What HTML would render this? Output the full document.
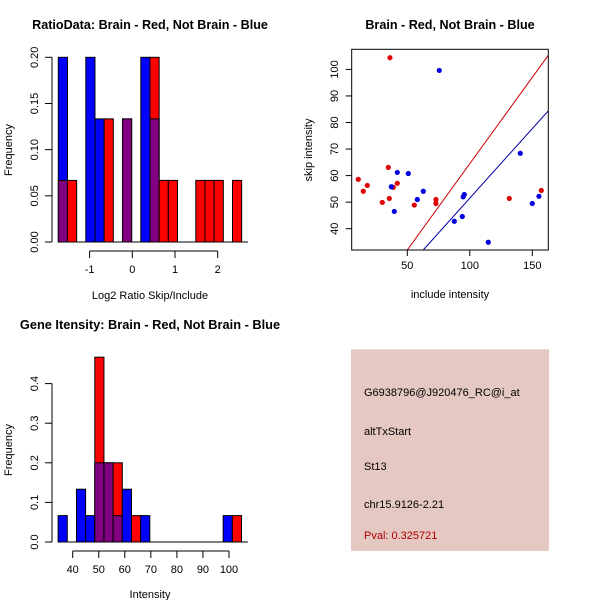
<!DOCTYPE html>
<html><head><meta charset="utf-8"><style>
body{margin:0;background:#fff}
svg text{font-family:"Liberation Sans",sans-serif;fill:#000}
</style></head><body>
<svg id="s" width="600" height="600" viewBox="0 0 600 600">
<rect x="351" y="349.3" width="198" height="201.7" fill="#e5c8c1"/>
<text x="364" y="396" font-size="11">G6938796@J920476_RC@i_at</text>
<text x="364" y="435" font-size="11">altTxStart</text>
<text x="364" y="470" font-size="11">St13</text>
<text x="364" y="508" font-size="11">chr15.9126-2.21</text>
<text x="364" y="539" font-size="11" style="fill:#b00000">Pval: 0.325721</text>
</svg>
<script>
// ---- Ratio histogram data ----
const ratioBinStart = -1.733, ratioBinWidth = 0.2147;
const ratioBlue = [0.2,0,0,0.2,0.1333,0,0,0.1333,0,0.2,0.1333,0,0,0,0,0,0,0,0,0];
const ratioRed  = [0.0667,0.0667,0,0,0,0.1333,0,0.1333,0,0,0.2,0.0667,0.0667,0,0,0.0667,0.0667,0.0667,0,0.0667];
const ratioXTicks = [-1,0,1,2];
const ratioYTicks = [0,0.05,0.10,0.15,0.20];
const ratioYLabels = ["0.00","0.05","0.10","0.15","0.20"];
// ---- Scatter data ----
const redX = [36.1,10.8,14.8,18,30,34.8,35.6,38.8,42,55.6,72.9,72.9,131.6,157.2];
const redY = [104.4,58.6,54.1,56.3,49.9,63.1,51.4,55.6,57.1,48.9,51,49.5,51.4,54.4];
const blueX = [75.6,37.2,42,50.8,39.6,58,62.8,87.6,94,94.7,95.6,114.8,140.4,150,155.3];
const blueY = [99.6,55.8,61.2,60.8,46.5,51,54.1,42.8,44.6,52,52.9,34.9,68.4,49.5,52.2];
const redFit = [-0.5,0.65];   // intercept, slope
const blueFit = [-0.9,0.524];
const scXTicks = [50,100,150];
const scYTicks = [40,50,60,70,80,90,100];
// ---- Gene intensity histogram ----
const geneBinStart = 34.4, geneBinWidth = 3.52;
const geneBlue = [0.0667,0,0.1333,0.0667,0.2,0.2,0.0667,0.1333,0,0.0667,0,0,0,0,0,0,0,0,0.0667,0];
const geneRed  = [0,0,0,0,0.4667,0.2,0.2,0,0.0667,0,0,0,0,0,0,0,0,0,0,0.0667];
const geneXTicks = [40,50,60,70,80,90,100];
const geneYTicks = [0,0.1,0.2,0.3,0.4];
const geneYLabels = ["0.0","0.1","0.2","0.3","0.4"];

const NS="http://www.w3.org/2000/svg", svg=document.getElementById('s');
function mk(tag,attrs,parent){const e=document.createElementNS(NS,tag);for(const k in attrs)e.setAttribute(k,attrs[k]);(parent||svg).appendChild(e);return e;}
function txt(x,y,s,size,extra){const t=mk('text',Object.assign({x:x,y:y,'font-size':size,'text-anchor':'middle'},extra||{}));t.textContent=s;return t;}

function hist(cfg){
  const g=mk('g',{});
  
  
  const X=v=>cfg.x0+(v-cfg.xv0)*cfg.xs, Y=v=>cfg.y0-v*cfg.ys;
  for(let i=0;i<cfg.blue.length;i++){
    const b=cfg.blue[i], r=cfg.red[i], l=X(cfg.bs+i*cfg.bw), w=cfg.bw*cfg.xs;
    const mx=Math.max(b,r), mn=Math.min(b,r);
    if(mx>0){
      const e=mk('rect',{x:l,y:Y(mx),width:w,height:Y(0)-Y(mx),fill:b>=r?'#0000ff':'#ff0000',stroke:'#000','stroke-width':1},g);
      
      
    }
    if(mn>0){
      const e=mk('rect',{x:l,y:Y(mn),width:w,height:Y(0)-Y(mn),fill:'#800080',stroke:'#000','stroke-width':1},g);
      
      
    }
  }
  const yt=cfg.yt;
  mk('line',{x1:52,x2:52,y1:Y(yt[0]),y2:Y(yt[yt.length-1]),stroke:'#000'},g);
  yt.forEach((v,i)=>{mk('line',{x1:45,x2:52,y1:Y(v),y2:Y(v),stroke:'#000'},g);
    const t=txt(38,Y(v),cfg.yl[i],11,{transform:`rotate(-90 38 ${Y(v)})`});});
  const xt=cfg.xt;
  mk('line',{x1:X(xt[0]),x2:X(xt[xt.length-1]),y1:cfg.axY,y2:cfg.axY,stroke:'#000'},g);
  xt.forEach(v=>{mk('line',{x1:X(v),x2:X(v),y1:cfg.axY,y2:cfg.axY+7,stroke:'#000'},g);
    const t=txt(X(v),cfg.axY+22,String(v),11);});
  mk('line',{x1:X(cfg.bs),x2:248,y1:Y(0),y2:Y(0),stroke:'#000'},g);
}
hist({name:'ratio-histogram',x0:132.3,xv0:0,xs:42.7,y0:242,ys:(242-57.3)/0.2,bs:ratioBinStart,bw:ratioBinWidth,blue:ratioBlue,red:ratioRed,xt:ratioXTicks,yt:ratioYTicks,yl:ratioYLabels,axY:251});
hist({name:'gene-histogram',x0:72.7,xv0:40,xs:2.605,y0:542,ys:396,bs:geneBinStart,bw:geneBinWidth,blue:geneBlue,red:geneRed,xt:geneXTicks,yt:geneYTicks,yl:geneYLabels,axY:551});

let t;
t=txt(150,29,'RatioData: Brain - Red, Not Brain - Blue',12.6,{'font-weight':'bold'});
t=txt(150,299,'Log2 Ratio Skip/Include',11);
t=txt(12,150,'Frequency',11,{transform:'rotate(-90 12 150)'});
t=txt(150,329,'Gene Itensity: Brain - Red, Not Brain - Blue',12.8,{'font-weight':'bold'});
t=txt(150,598,'Intensity',11);
t=txt(12,450,'Frequency',11,{transform:'rotate(-90 12 450)'});

// scatter
const SX=v=>407.3+(v-50)*1.25, SY=v=>228.7-(v-40)*2.655;
const L=351.7,R=548.3,T=49.3,B=250;
const sg=mk('g',{});


const cp=mk('clipPath',{id:'cp'},sg);mk('rect',{x:L,y:T,width:R-L,height:B-T},cp);
function SYinv(py){return 40+(228.7-py)/2.655;}
function fitLine(f,col,name){
  const x1=(SYinv(B)-f[0])/f[1];
  const e=mk('line',{x1:SX(x1),y1:SY(f[0]+f[1]*x1),x2:SX(170),y2:SY(f[0]+f[1]*170),stroke:col,'stroke-width':1,'clip-path':'url(#cp)'},sg);
  
  
}
fitLine(redFit,'#cc0000','red-fit-line');
fitLine(blueFit,'#0000aa','blue-fit-line');
redX.forEach((x,i)=>{const c=mk('circle',{cx:SX(x),cy:SY(redY[i]),r:2.6,fill:'#e00000'},sg);
  
  });
blueX.forEach((x,i)=>{const c=mk('circle',{cx:SX(x),cy:SY(blueY[i]),r:2.6,fill:'#0000e0'},sg);
  
  });
mk('rect',{x:L,y:T,width:R-L,height:B-T,fill:'none',stroke:'#000'},sg);
scXTicks.forEach(v=>{mk('line',{x1:SX(v),x2:SX(v),y1:B,y2:B+6,stroke:'#000'},sg);
  const q=txt(SX(v),B+19,String(v),11);});
scYTicks.forEach(v=>{mk('line',{x1:L-6,x2:L,y1:SY(v),y2:SY(v),stroke:'#000'},sg);
  const q=txt(338,SY(v),String(v),11,{transform:`rotate(-90 338 ${SY(v)})`});});
t=txt(450,29,'Brain - Red, Not Brain - Blue',12.6,{'font-weight':'bold'});
t=txt(450,298,'include intensity',11);
t=txt(312,150,'skip intensity',11,{transform:'rotate(-90 312 150)'});
</script>
</body></html>
